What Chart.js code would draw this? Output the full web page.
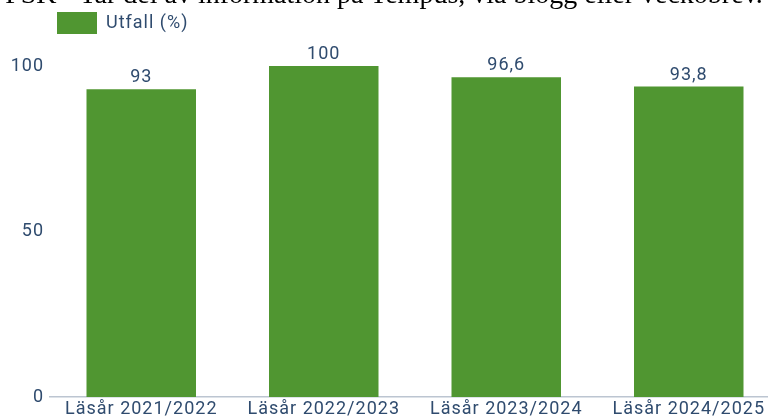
<!DOCTYPE html>
<html>
<head>
<meta charset="utf-8">
<script src="https://cdn.jsdelivr.net/npm/chart.js@4.4.1/dist/chart.umd.min.js"></script>
<style>
html, body { margin: 0; padding: 0; background: #fff; overflow: hidden; }
#wrap { position: relative; width: 768px; height: 419px; overflow: hidden; }
#box { position: absolute; left: 0; top: 0; width: 780px; height: 419px; }
#title { position: absolute; left: -10px; top: -20px; width: 788px; text-align: center; white-space: nowrap;
	font: 28px/28px "Liberation Serif", "DejaVu Serif", serif; color: #000; }
</style>
</head>
<body>
<div id="wrap">
	<div id="box"><canvas id="utfallChart" width="780" height="419"></canvas></div>
	<div id="title">FSK - Tar del av information på Tempus, via blogg eller veckobrev.</div>
</div>
<script>
var categories = ["Läsår 2021/2022", "Läsår 2022/2023", "Läsår 2023/2024", "Läsår 2024/2025"];
var utfall = [93, 100, 96.6, 93.8];
var yTicks = [0, 50, 100];

var textColor = '#2f4b6e';
var barColor = '#509631';

// slightly wider text, like the original
var spacing = {
	id: 'spacing',
	beforeLayout: function(chart){ chart.ctx.letterSpacing = '1px'; },
	beforeDraw: function(chart){ chart.ctx.letterSpacing = '1px'; }
};

// value above each bar
var valueLabels = {
	id: 'valueLabels',
	afterDatasetsDraw: function(chart){
		var ctx = chart.ctx;
		var meta = chart.getDatasetMeta(0);
		ctx.save();
		ctx.font = '18px Roboto';
		ctx.fillStyle = textColor;
		ctx.textAlign = 'center';
		ctx.textBaseline = 'alphabetic';
		meta.data.forEach(function(bar, i){
			ctx.fillText(String(utfall[i]).replace('.', ','), bar.x, bar.y - 7);
		});
		ctx.restore();
	}
};

const utfallChart = document.getElementById("utfallChart").getContext('2d');

var config = {
	type: 'bar',
	data: {
		labels: categories,
		datasets: [
			{
				label: "Utfall (%)",
				data: utfall,
				backgroundColor: barColor,
				borderWidth: 0,
				categoryPercentage: 1,
				barPercentage: 0.6
			}
		]
	},
	options: {
		responsive: false,
		animation: false,
		layout: {
			padding: { top: 5, left: 0, right: 0, bottom: 0 }
		},
		plugins: {
			legend: {
				display: true,
				position: 'top',
				align: 'start',
				fullSize: false,
				labels: {
					boxWidth: 40,
					boxHeight: 22,
					padding: 7,
					color: textColor,
					font: { family: 'Roboto', size: 18 }
				}
			},
			// empty title only keeps room for the value labels
			title: {
				display: true,
				text: '',
				weight: 500,
				padding: 0,
				font: { size: 22, lineHeight: 1 }
			},
			tooltip: { enabled: false }
		},
		scales: {
			y: {
				min: 0,
				max: 100,
				afterBuildTicks: function(scale){
					scale.ticks = yTicks.map(function(v){ return { value: v }; });
				},
				afterFit: function(scale){ scale.width = 50; },
				grid: { display: false, drawTicks: false },
				border: { display: false },
				ticks: {
					padding: 6,
					color: textColor,
					font: { family: 'Roboto', size: 18 }
				}
			},
			x: {
				afterFit: function(scale){ scale.height = 22; },
				grid: { display: false, drawTicks: false },
				border: { display: true, color: '#bcc5d1', width: 1.5 },
				ticks: {
					padding: 2,
					maxRotation: 0,
					color: textColor,
					font: { family: 'Roboto', size: 18 }
				}
			}
		}
	},
	plugins: [spacing, valueLabels]
};

var barChart = new Chart(utfallChart, config);
</script>
</body>
</html>
